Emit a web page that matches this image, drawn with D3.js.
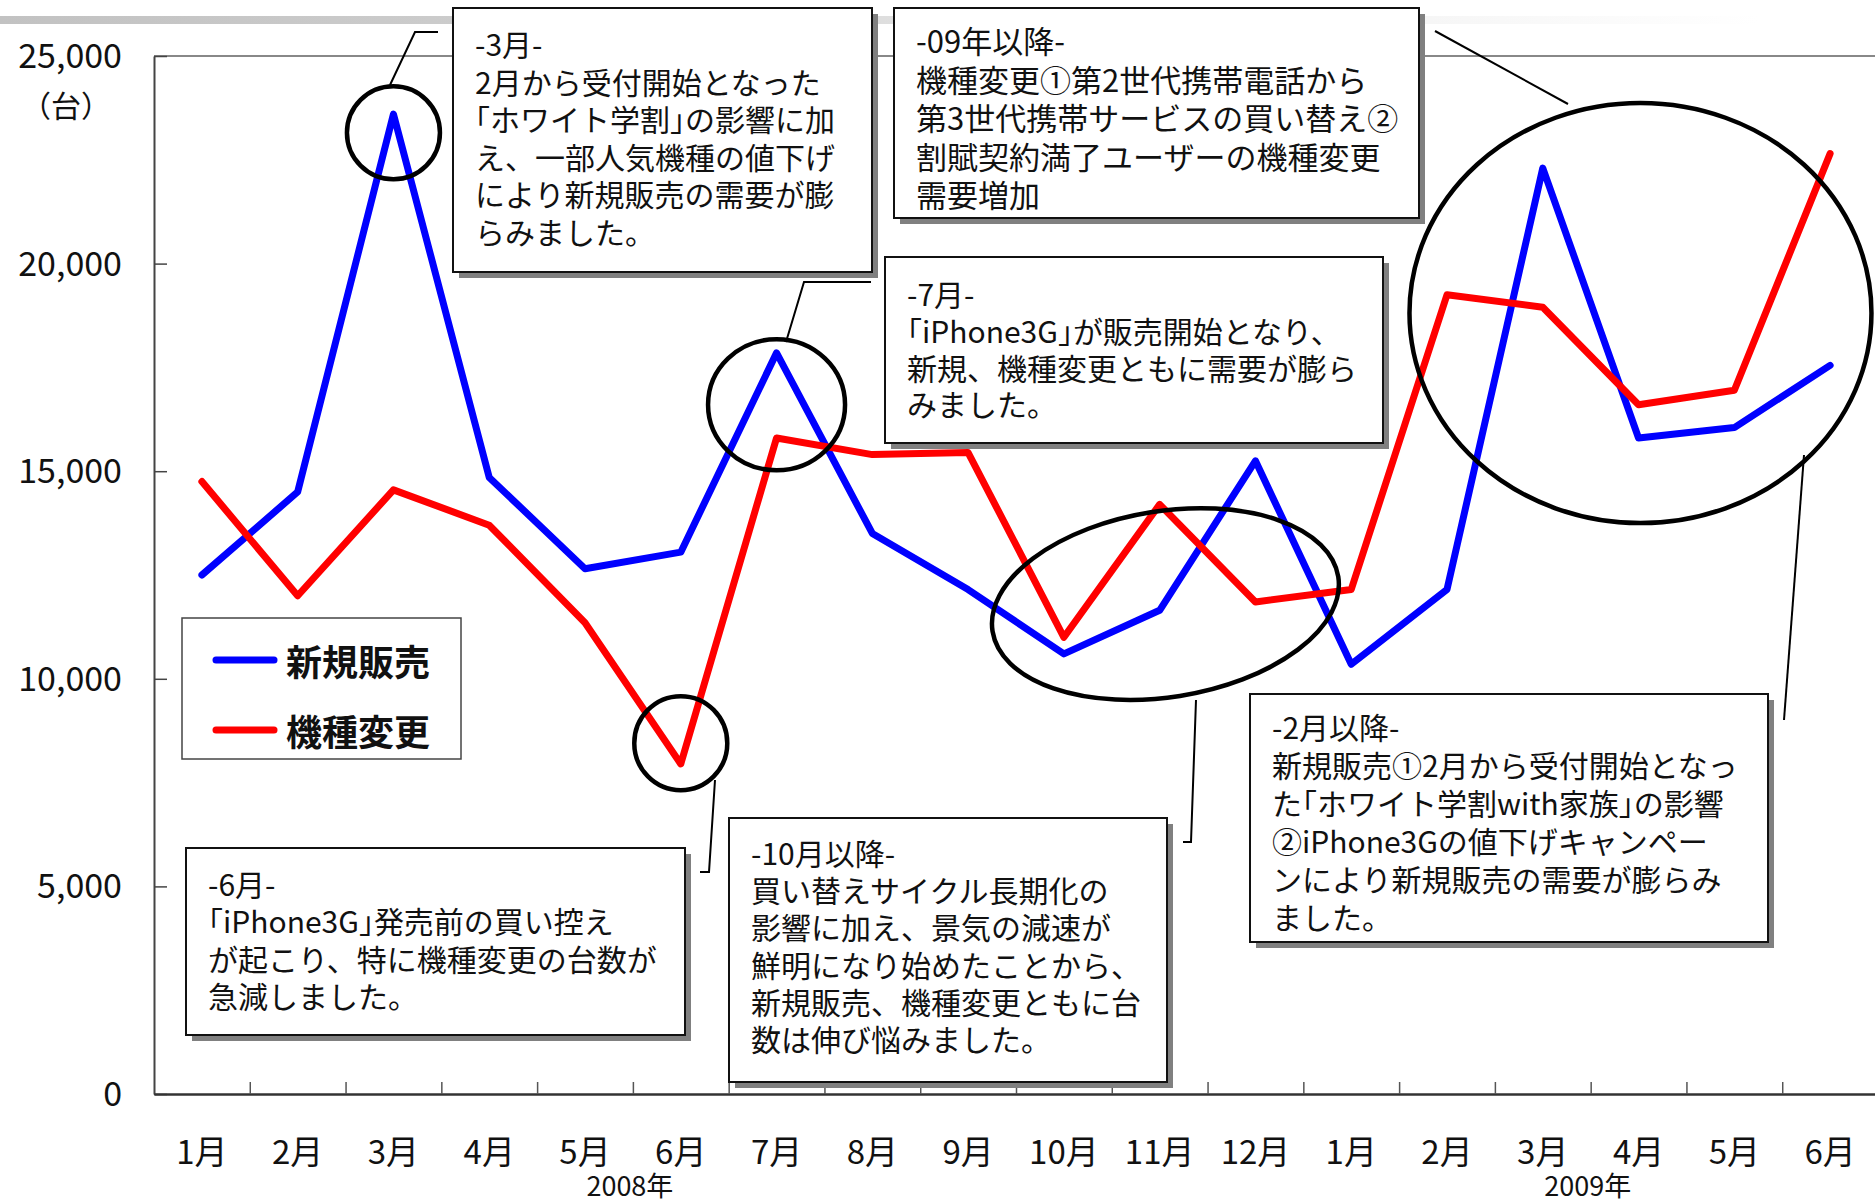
<!DOCTYPE html>
<html>
<head>
<meta charset="utf-8">
<script src="https://cdn.jsdelivr.net/npm/d3@7"></script>
<style>
  html, body { margin: 0; padding: 0; background: #fff; }
  svg { display: block; font-family: "Noto Sans CJK JP", "Noto Sans", sans-serif; }
</style>
</head>
<body>
<svg id="chart" width="1875" height="1204"></svg>
<script>
// ---- data ----
const months = ["1月","2月","3月","4月","5月","6月","7月","8月","9月","10月","11月","12月",
                "1月","2月","3月","4月","5月","6月"];
const yearLabels = ["2008年", "2009年"];
const seriesNames = ["新規販売", "機種変更"];
const newSales = [12500, 14500, 23600, 14850, 12650, 13050, 17850, 13500, 12150, 10600,
                  11650, 15250, 10350, 12150, 22300, 15800, 16050, 17550];
const upgrades = [14750, 12000, 14550, 13700, 11350, 7950, 15800, 15400, 15450, 11000,
                  14200, 11850, 12150, 19250, 18950, 16600, 16950, 22650];
const yTicks = [0, 5000, 10000, 15000, 20000, 25000];
const yUnit = "（台）";

// callout texts
const note3 = ["-3月-", "2月から受付開始となった", "「ホワイト学割」の影響に加",
               "え、一部人気機種の値下げ", "により新規販売の需要が膨", "らみました。"];
const note09 = ["-09年以降-", "機種変更①第2世代携帯電話から", "第3世代携帯サービスの買い替え②",
                "割賦契約満了ユーザーの機種変更", "需要増加"];
const note7 = ["-7月-", "「iPhone3G」が販売開始となり、", "新規、機種変更ともに需要が膨ら", "みました。"];
const note6 = ["-6月-", "「iPhone3G」発売前の買い控え", "が起こり、特に機種変更の台数が", "急減しました。"];
const note10 = ["-10月以降-", "買い替えサイクル長期化の", "影響に加え、景気の減速が",
                "鮮明になり始めたことから、", "新規販売、機種変更ともに台", "数は伸び悩みました。"];
const note2 = ["-2月以降-", "新規販売①2月から受付開始となっ", "た「ホワイト学割with家族」の影響",
               "②iPhone3Gの値下げキャンペー", "ンにより新規販売の需要が膨らみ", "ました。"];

// ---- layout ----
const chartW = 1875;
const plotLeft = 154, plotRight = 1878, plotTop = 56, plotBottom = 1094;
const svg = d3.select("#chart");

const x = d3.scaleBand().domain(d3.range(months.length)).range([plotLeft, plotRight]).padding(0);
const xb = d3.scaleLinear().domain([0, months.length]).range([plotLeft, plotRight]);
const y = d3.scaleLinear().domain([0, 25000]).range([plotBottom, plotTop]);
const cx = i => x(i) + x.bandwidth() / 2;
// fractional category position (for annotation placement)
const xf = f => xb(f + 0.5);

// faint band across the top
const defs = svg.append("defs");
const grad = defs.append("linearGradient").attr("id", "topband")
  .attr("x1", "0").attr("x2", "1").attr("y1", "0").attr("y2", "0");
grad.append("stop").attr("offset", "0").attr("stop-color", "#c2c2c2");
grad.append("stop").attr("offset", "0.3").attr("stop-color", "#cdcdcd");
grad.append("stop").attr("offset", "0.75").attr("stop-color", "#f3f3f3");
grad.append("stop").attr("offset", "1").attr("stop-color", "#ffffff");
svg.append("rect").attr("x", 0).attr("y", 16).attr("width", 1760).attr("height", 8)
  .attr("fill", "url(#topband)");

// top frame line
svg.append("line").attr("x1", plotLeft).attr("x2", chartW).attr("y1", plotTop).attr("y2", plotTop)
  .attr("stroke", "#888").attr("stroke-width", 2);

// y axis
const yAxis = svg.append("g").attr("transform", `translate(${plotLeft},0)`)
  .call(d3.axisLeft(y).tickValues(yTicks).tickSize(-13).tickSizeOuter(0)
        .tickPadding(32).tickFormat(d3.format(",")));
yAxis.select(".domain").attr("stroke", "#444").attr("stroke-width", 2);
yAxis.selectAll(".tick line").attr("stroke", "#444").attr("stroke-width", 1.5);
yAxis.selectAll(".tick text").attr("font-size", 34).attr("fill", "#111")
  .attr("font-family", "\"Noto Sans CJK JP\", sans-serif").attr("dy", "0.34em");

svg.append("text").attr("x", 66).attr("y", 104).attr("text-anchor", "middle")
  .attr("dominant-baseline", "central").attr("font-size", 30).attr("fill", "#111")
  .text(yUnit);

// x axis: boundary ticks
const xTicks = svg.append("g").attr("transform", `translate(0,${plotBottom})`)
  .call(d3.axisBottom(xb).tickValues(d3.range(1, months.length)).tickSize(-12)
        .tickSizeOuter(0).tickFormat(""));
xTicks.select(".domain").attr("stroke", "#333").attr("stroke-width", 2.5);
xTicks.selectAll(".tick line").attr("stroke", "#555").attr("stroke-width", 1.5);

// x axis: month labels
const xLabels = svg.append("g").attr("transform", `translate(0,${plotBottom})`)
  .call(d3.axisBottom(x).tickSize(0).tickFormat(i => months[i]));
xLabels.select(".domain").remove();
xLabels.selectAll(".tick text").attr("font-size", 33).attr("fill", "#111")
  .attr("y", 58).attr("dy", "0.35em")
  .attr("font-family", "\"Noto Sans CJK JP\", sans-serif");

// year labels centred on category boundaries
const yearAt = [5, 15];
svg.append("g").selectAll("text").data(yearLabels).join("text")
  .attr("x", (d, i) => xb(yearAt[i]) - 3).attr("y", 1184)
  .attr("text-anchor", "middle").attr("dominant-baseline", "central")
  .attr("font-size", 27).attr("fill", "#111").text(d => d);

// series lines
const line = d3.line().x((d, i) => cx(i)).y(d => y(d));
const series = [
  { name: seriesNames[0], values: newSales, color: "#0000ff" },
  { name: seriesNames[1], values: upgrades, color: "#ff0000" }
];
svg.append("g").selectAll("path").data(series).join("path")
  .attr("d", d => line(d.values)).attr("fill", "none")
  .attr("stroke", d => d.color).attr("stroke-width", 7)
  .attr("stroke-linejoin", "round").attr("stroke-linecap", "round");

// highlight rings around notable points
const rings = [
  { at: 2, v: 23150, rx: 46.5, ry: 46.5, rot: 0 },
  { at: 6, v: 16600, rx: 68.5, ry: 65.5, rot: 0 },
  { at: 5, v: 8450, rx: 46.5, ry: 47, rot: 0 },
  { at: 10.06, v: 11800, rx: 175, ry: 93, rot: -9 },
  { at: 15.02, v: 18810, rx: 231, ry: 210, rot: 0 }
];
svg.append("g").selectAll("ellipse").data(rings).join("ellipse")
  .attr("transform", d => `translate(${xf(d.at)},${y(d.v)}) rotate(${d.rot})`)
  .attr("rx", d => d.rx).attr("ry", d => d.ry)
  .attr("fill", "none").attr("stroke", "#000").attr("stroke-width", 4.5);

// leader lines from rings to callouts
const leaders = [
  [[390, 85], [415, 32], [438, 32]],
  [[786, 342], [804, 282], [871, 282]],
  [[715, 780], [709, 872], [700, 872]],
  [[1196, 700], [1191, 842], [1183, 842]],
  [[1804, 455], [1784, 720]],
  [[1435, 31], [1568, 104]]
];
svg.append("g").selectAll("polyline").data(leaders).join("polyline")
  .attr("points", d => d.map(p => p.join(",")).join(" "))
  .attr("fill", "none").attr("stroke", "#000").attr("stroke-width", 2);

// legend
const lg = svg.append("g");
lg.append("rect").attr("x", 182).attr("y", 618).attr("width", 279).attr("height", 141)
  .attr("fill", "#fff").attr("stroke", "#444").attr("stroke-width", 1.5);
lg.selectAll("g.item").data(series).join("g").attr("class", "item")
  .attr("transform", (d, i) => `translate(0,${660 + i * 70})`)
  .each(function (d) {
    const g = d3.select(this);
    g.append("line").attr("x1", 216).attr("x2", 274).attr("y1", 0).attr("y2", 0)
      .attr("stroke", d.color).attr("stroke-width", 7).attr("stroke-linecap", "round");
    g.append("text").attr("x", 286).attr("y", 0).attr("dominant-baseline", "central")
      .attr("font-size", 36).attr("font-weight", "bold").attr("fill", "#111").text(d.name);
  });

// callout boxes
const callouts = [
  { lines: note3,  x: 453,  y: 8,   w: 419, h: 264, first: 35, lh: 37.6, fs: 30 },
  { lines: note09, x: 894,  y: 8,   w: 525, h: 210, first: 31, lh: 38.5, fs: 31 },
  { lines: note7,  x: 885,  y: 257, w: 498, h: 186, first: 36, lh: 36.8, fs: 30 },
  { lines: note6,  x: 186,  y: 848, w: 499, h: 187, first: 35, lh: 37.3, fs: 30 },
  { lines: note10, x: 729,  y: 818, w: 438, h: 264, first: 34, lh: 37.2, fs: 30 },
  { lines: note2,  x: 1250, y: 694, w: 518, h: 248, first: 32, lh: 38,   fs: 30 }
];
const brackets = /([「」])/;
const cg = svg.append("g").selectAll("g").data(callouts).join("g");
cg.append("rect").attr("x", d => d.x + 6).attr("y", d => d.y + 6)
  .attr("width", d => d.w).attr("height", d => d.h).attr("fill", "#808080");
cg.append("rect").attr("x", d => d.x).attr("y", d => d.y)
  .attr("width", d => d.w).attr("height", d => d.h)
  .attr("fill", "#fff").attr("stroke", "#111").attr("stroke-width", 2);
cg.each(function (d) {
  const t = d3.select(this).append("text")
    .attr("font-size", d.fs).attr("fill", "#111").attr("dominant-baseline", "central");
  t.selectAll("tspan.ln").data(d.lines).join("tspan").attr("class", "ln")
    .attr("x", d.x + 22).attr("y", (s, i) => d.y + d.first + i * d.lh)
    .each(function (s) {
      const ln = d3.select(this);
      if (!brackets.test(s)) { ln.text(s); return; }
      // corner brackets set half-width
      ln.selectAll("tspan").data(s.split(brackets).filter(p => p.length))
        .join("tspan")
        .style("font-feature-settings", p => brackets.test(p) ? "\"halt\"" : null)
        .text(p => p);
    });
});
</script>
</body>
</html>
